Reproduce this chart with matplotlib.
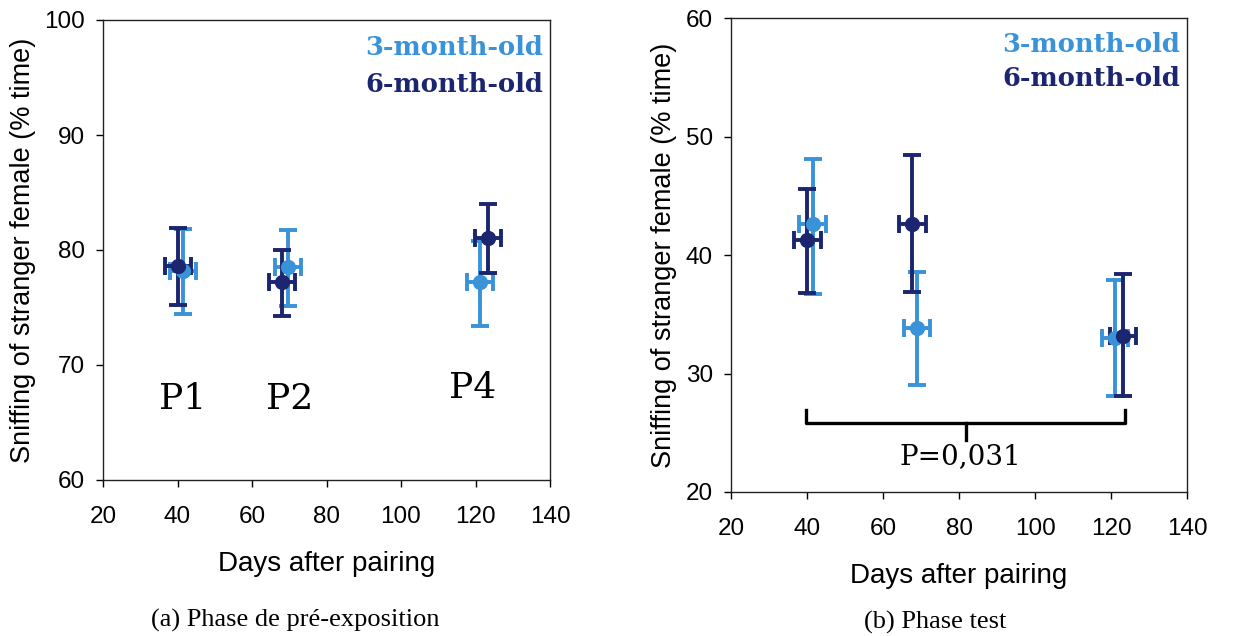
import matplotlib
matplotlib.use("Agg")
import matplotlib.pyplot as plt

# ---- data ----
# Panel (a): Phase de pré-exposition
a_days_3m = [41.5, 69.7, 121.2]
a_mean_3m = [78.2, 78.5, 77.2]
a_lo_3m = [74.4, 75.1, 73.4]
a_hi_3m = [81.8, 81.7, 80.8]
a_days_6m = [40.2, 68.0, 123.4]
a_mean_6m = [78.6, 77.2, 81.0]
a_lo_6m = [75.2, 74.3, 78.0]
a_hi_6m = [81.9, 80.0, 84.0]
a_xerr = [3.5, 3.5, 3.5]
period_labels = ["P1", "P2", "P4"]
period_x = [41.5, 70.2, 119.3]
period_y = [67.0, 67.0, 68.0]

# Panel (b): Phase test
b_days_3m = [41.5, 68.9, 121.1]
b_mean_3m = [42.6, 33.8, 33.0]
b_lo_3m = [36.7, 29.0, 28.1]
b_hi_3m = [48.1, 38.6, 37.9]
b_days_6m = [40.1, 67.7, 123.2]
b_mean_6m = [41.3, 42.6, 33.2]
b_lo_6m = [36.8, 36.9, 28.1]
b_hi_6m = [45.6, 48.4, 38.4]
b_xerr = [3.5, 3.5, 3.5]
bracket_x = [39.8, 123.7]
bracket_y = [26.9, 25.8, 24.4]
p_text = "P=0,031"

series_names = ["3-month-old", "6-month-old"]
xticks = [20, 40, 60, 80, 100, 120, 140]
a_yticks = [60, 70, 80, 90, 100]
b_yticks = [20, 30, 40, 50, 60]
xlabel = "Days after pairing"
ylabel = "Sniffing of stranger female (% time)"
captions = ["(a) Phase de pré-exposition", "(b) Phase test"]

LIGHT = "#3a93d8"
DARK = "#1b2570"
SANS = ["Liberation Sans", "DejaVu Sans"]
SERIF = ["DejaVu Serif"]
TIMES = ["Liberation Serif", "DejaVu Serif"]

fig = plt.figure(figsize=(12.34, 6.36), dpi=100)
axA = fig.add_axes([103/1234, 1-480/636, (550-103)/1234, 460/636])
axB = fig.add_axes([731/1234, 1-492/636, (1187-731)/1234, 474/636])


def draw_series(ax, x, m, lo, hi, xerr, color):
    yerr = [[mm - l for mm, l in zip(m, lo)], [h - mm for mm, h in zip(m, hi)]]
    ax.errorbar(x, m, yerr=yerr, xerr=xerr, fmt="o", color=color, ecolor=color,
                markersize=10, elinewidth=2.8, capsize=6.5, capthick=2.8, zorder=3)


def style(ax, ylim, yticks, xlabpad):
    ax.set_xlim(20, 140)
    ax.set_ylim(*ylim)
    ax.set_xticks(xticks)
    ax.set_yticks(yticks)
    ax.tick_params(axis="x", direction="out", length=5, width=1, labelsize=17.5, pad=14,
                   top=False)
    ax.tick_params(axis="y", direction="out", length=5, width=1, labelsize=17.5, pad=8,
                   right=False)
    for lab in ax.get_xticklabels() + ax.get_yticklabels():
        lab.set_fontfamily(SANS)
    for s in ax.spines.values():
        s.set_color("#222222")
        s.set_linewidth(1)
    ax.set_xlabel(xlabel, fontsize=20, family=SANS, labelpad=xlabpad)
    ax.set_ylabel(ylabel, fontsize=19.5, family=SANS, labelpad=6)


# Panel A
draw_series(axA, a_days_3m, a_mean_3m, a_lo_3m, a_hi_3m, a_xerr, LIGHT)
draw_series(axA, a_days_6m, a_mean_6m, a_lo_6m, a_hi_6m, a_xerr, DARK)
style(axA, (60, 100), a_yticks, 16)
for lab, x, y in zip(period_labels, period_x, period_y):
    axA.text(x, y, lab, fontsize=26, family=SERIF, ha="center", va="center")
axA.text(0.985, 0.94, series_names[0], transform=axA.transAxes, ha="right", va="center",
         fontsize=18.5, fontweight="bold", family=SERIF, color=LIGHT)
axA.text(0.985, 0.86, series_names[1], transform=axA.transAxes, ha="right", va="center",
         fontsize=18.5, fontweight="bold", family=SERIF, color=DARK)

# Panel B
draw_series(axB, b_days_3m, b_mean_3m, b_lo_3m, b_hi_3m, b_xerr, LIGHT)
draw_series(axB, b_days_6m, b_mean_6m, b_lo_6m, b_hi_6m, b_xerr, DARK)
style(axB, (20, 60), b_yticks, 16)
mid = (bracket_x[0] + bracket_x[1]) / 2
axB.plot([bracket_x[0], bracket_x[0], bracket_x[1], bracket_x[1]],
         [bracket_y[0], bracket_y[1], bracket_y[1], bracket_y[0]], color="black", lw=2.4,
         solid_joinstyle="round")
axB.plot([mid, mid], [bracket_y[1], bracket_y[2]], color="black", lw=2.4)
axB.text(mid - 1.3, 23.0, p_text, fontsize=20, family=SERIF, ha="center", va="center")
axB.text(0.985, 0.945, series_names[0], transform=axB.transAxes, ha="right", va="center",
         fontsize=18.5, fontweight="bold", family=SERIF, color=LIGHT)
axB.text(0.985, 0.872, series_names[1], transform=axB.transAxes, ha="right", va="center",
         fontsize=18.5, fontweight="bold", family=SERIF, color=DARK)

fig.text(295/1234, 1-620/636, captions[0], fontsize=19, family=TIMES, ha="center", va="center")
fig.text(935/1234, 1-622/636, captions[1], fontsize=19, family=TIMES, ha="center", va="center")

fig.savefig("out.png", dpi=100)
